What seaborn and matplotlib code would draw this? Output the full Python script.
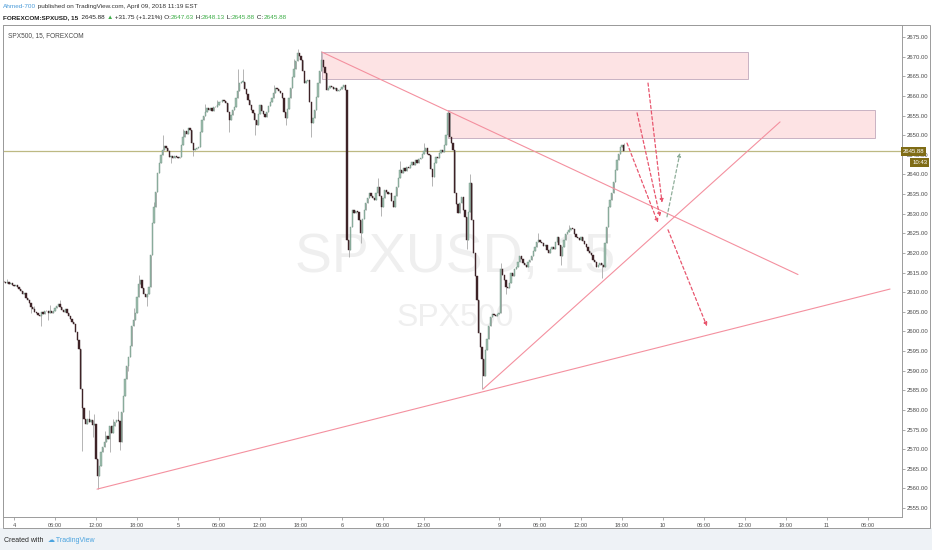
import numpy as np
import pandas as pd
import matplotlib
matplotlib.use("Agg")
import matplotlib.pyplot as plt
import matplotlib.transforms as mtransforms
from matplotlib.patches import Rectangle
import seaborn as sns

# 15 minute closes, bar index -6 .. 357 (index 0 = Apr 4 00:00, weekend skipped)
first_bar = -6
closes = [
    2612.6, 2612.4, 2612.5, 2612.2, 2612.3, 2611.9, 2611.5, 2611.8, 2611.2, 2610.7,
    2610.2, 2609.6, 2609.9, 2608.6, 2608.0, 2607.2, 2606.1, 2605.6, 2605.0, 2604.6,
    2604.3, 2604.0, 2605.0, 2604.4, 2605.3, 2605.1, 2604.6, 2605.2, 2604.8, 2605.3,
    2606.0, 2606.4, 2606.9, 2606.2, 2605.4, 2604.9, 2605.6, 2604.8, 2603.9, 2603.2,
    2602.5, 2601.8, 2599.9, 2597.8, 2595.4, 2585.2, 2580.4, 2577.6, 2576.4, 2577.8,
    2576.9, 2577.5, 2576.2, 2576.3, 2567.4, 2563.1, 2565.8, 2569.2, 2570.5, 2571.8,
    2573.4, 2572.6, 2575.8, 2574.2, 2576.0, 2576.9, 2577.5, 2577.1, 2571.8, 2579.4,
    2583.6, 2587.8, 2591.1, 2593.5, 2596.2, 2601.3, 2603.0, 2604.8, 2608.7, 2612.0,
    2613.2, 2611.0, 2609.5, 2608.9, 2609.6, 2611.4, 2619.5, 2627.7, 2631.8, 2635.6,
    2640.4, 2642.8, 2645.0, 2646.3, 2647.2, 2646.8, 2646.0, 2644.5, 2644.8, 2644.3,
    2644.6, 2644.5, 2644.2, 2644.5, 2647.5, 2649.6, 2651.0, 2650.2, 2651.8, 2651.4,
    2648.0, 2646.3, 2646.6, 2646.8, 2647.0, 2650.8, 2653.9, 2655.0, 2656.0, 2656.9,
    2656.5, 2657.0, 2656.2, 2657.3, 2657.1, 2657.7, 2658.4, 2658.6, 2659.0, 2658.8,
    2658.2, 2656.0, 2653.9, 2655.2, 2656.4, 2657.2, 2659.4, 2661.2, 2663.3, 2663.6,
    2663.6, 2661.8, 2660.4, 2659.0, 2657.8, 2656.5, 2655.7, 2654.0, 2652.6, 2655.4,
    2657.7, 2656.2, 2655.5, 2654.7, 2656.0, 2657.4, 2658.5, 2659.6, 2660.8, 2662.0,
    2661.8, 2661.2, 2660.8, 2659.5, 2656.0, 2654.4, 2656.8, 2659.5, 2662.0, 2664.8,
    2666.9, 2669.0, 2670.9, 2670.2, 2669.2, 2666.5, 2663.3, 2663.8, 2664.1, 2658.6,
    2653.1, 2654.5, 2656.4, 2659.8, 2663.3, 2666.4, 2669.2, 2667.5, 2665.8, 2661.5,
    2662.0, 2662.6, 2662.3, 2661.8, 2662.0, 2661.4, 2661.5, 2661.8, 2662.4, 2662.8,
    2661.5, 2623.4, 2620.8, 2626.5, 2631.0, 2630.2, 2630.8, 2630.5, 2628.4, 2625.2,
    2628.6, 2631.0, 2632.8, 2634.1, 2635.3, 2634.6, 2634.0, 2633.6, 2635.2, 2636.9,
    2634.5, 2631.8, 2634.0, 2636.1, 2635.5, 2635.0, 2635.3, 2633.2, 2631.8, 2634.5,
    2636.9, 2639.0, 2641.2, 2640.4, 2641.6, 2640.8, 2642.0, 2641.7, 2642.5, 2643.1,
    2642.4, 2643.6, 2643.0, 2644.0, 2644.2, 2645.2, 2646.0, 2646.8, 2645.3, 2645.0,
    2641.5, 2639.4, 2643.0, 2644.5, 2644.1, 2645.5, 2646.2, 2645.8, 2647.5, 2650.0,
    2655.7, 2649.6, 2648.0, 2646.3, 2635.3, 2632.5, 2630.2, 2632.8, 2634.3, 2631.0,
    2629.2, 2623.4, 2630.5, 2637.9, 2628.5, 2620.0, 2614.2, 2608.1, 2599.7, 2596.0,
    2592.9, 2588.6, 2595.2, 2598.0, 2601.5, 2603.8, 2604.5, 2604.3, 2604.0, 2604.5,
    2604.8, 2615.8, 2614.5, 2613.2, 2611.4, 2611.0, 2612.3, 2615.0, 2614.2, 2616.0,
    2616.5, 2617.8, 2619.1, 2618.4, 2617.5, 2617.0, 2616.5, 2617.6, 2618.3, 2619.1,
    2620.5, 2621.6, 2622.8, 2623.4, 2622.9, 2622.6, 2621.8, 2622.0, 2620.8, 2620.1,
    2621.0, 2621.6, 2620.9, 2622.8, 2624.1, 2622.0, 2619.1, 2621.5, 2623.4, 2624.8,
    2625.4, 2625.9, 2626.4, 2626.2, 2624.8, 2624.1, 2623.8, 2623.4, 2624.1, 2623.0,
    2622.4, 2621.6, 2620.6, 2620.1, 2619.4, 2618.3, 2617.8, 2616.5, 2617.0, 2617.5,
    2617.0, 2616.5, 2622.6, 2626.7, 2631.8, 2633.5, 2635.3, 2638.0, 2641.2, 2643.8,
    2645.2, 2647.0, 2647.63, 2645.88,
]
first_open = 2612.8

# visible wicks (bar index -> price)
high_wicks = {-4: 2613.4, 12: 2606.5, 21: 2606.8, 27: 2608.0, 44: 2580.0, 47: 2579.0,
              53: 2574.6, 58: 2577.8, 61: 2579.6, 70: 2606.0, 73: 2614.4, 82: 2633.0,
              87: 2650.0, 99: 2651.6, 112: 2658.0, 119: 2659.0, 131: 2666.8, 134: 2667.0,
              152: 2662.8, 164: 2669.5, 166: 2672.0, 180: 2671.6, 213: 2639.0, 226: 2643.5,
              240: 2648.0, 254: 2656.5, 267: 2640.0, 285: 2617.5, 307: 2625.0, 325: 2627.2,
              357: 2648.13}
low_wicks = {10: 2604.8, 16: 2601.5, 20: 2603.0, 40: 2569.5, 46: 2573.0, 49: 2559.8,
             56: 2569.2, 62: 2569.9, 67: 2590.0, 78: 2606.5, 92: 2642.8, 105: 2644.6,
             126: 2650.8, 141: 2650.0, 159: 2652.5, 174: 2649.6, 196: 2619.0, 203: 2622.5,
             215: 2629.5, 245: 2637.0, 265: 2621.0, 274: 2585.2, 288: 2609.5, 320: 2617.0,
             344: 2613.5}

last_price = 2645.88

# drawings: (bar index, price)
zone_upper = [(180.3, 2664.4), (429.7, 2671.2)]
zone_lower = [(254.1, 2649.3), (504.1, 2656.5)]
line_down = [(180.3, 2671.2), (459.0, 2614.5)]
line_up = [(274.6, 2585.3), (448.5, 2653.4)]
line_base = [(48.6, 2559.8), (512.9, 2610.8)]
red_arrows = [[(358.9, 2648.0), (377.0, 2627.7)],
              [(364.8, 2655.7), (378.2, 2629.2)],
              [(371.2, 2663.3), (379.4, 2632.8)],
              [(382.9, 2625.9), (405.7, 2601.3)]]
green_arrow = [(382.3, 2629.2), (389.9, 2645.5)]

tick_idx = [0, 24, 48, 72, 96, 120, 144, 168, 192, 216, 240, 284, 308, 332, 356,
            380, 404, 428, 452, 476, 500]
tick_lab = ['4', '06:00', '12:00', '18:00', '5', '06:00', '12:00', '18:00', '6', '06:00',
            '12:00', '9', '06:00', '12:00', '18:00', '10', '06:00', '12:00', '18:00',
            '11', '06:00']
price_ticks = np.arange(2555, 2680, 5)

sns.set_style("white")
plt.rcParams['font.family'] = ['Liberation Sans', 'DejaVu Sans']

W, H = 932, 550
fig = plt.figure(figsize=(W / 100, H / 100), dpi=100)
fig.patch.set_facecolor('white')


def fx(px):
    return px / W


def fy(py):
    return 1 - py / H


# bottom band
fig.patches.append(Rectangle((0, 0), 1, fy(528), transform=fig.transFigure,
                             facecolor='#eef2f6', edgecolor='none', zorder=0))

ax = fig.add_axes([fx(3), fy(517), fx(902) - fx(3), fy(25) - fy(517)])

idx = np.arange(first_bar, first_bar + len(closes))
opens = [first_open] + closes[:-1]
df = pd.DataFrame({'i': idx, 'open': opens, 'close': closes})
df['top'] = df[['open', 'close']].max(axis=1)
df['bot'] = df[['open', 'close']].min(axis=1)
df['high'] = [max(high_wicks.get(i, t), t) for i, t in zip(df['i'], df['top'])]
df['low'] = [min(low_wicks.get(i, b), b) for i, b in zip(df['i'], df['bot'])]
df['up'] = df['close'] >= df['open']

up_col, dn_col, wick_col = '#9dbdad', '#3e2327', '#a8a8a8'

# watermark
ax.text(0.503, 0.527, 'SPXUSD, 15', transform=ax.transAxes, ha='center', va='center',
        fontsize=40, color='#efefef', zorder=0)
ax.text(0.503, 0.405, 'SPX500', transform=ax.transAxes, ha='center', va='center',
        fontsize=23, color='#efefef', zorder=0)

ax.vlines(df['i'], df['low'], df['high'], color=wick_col, lw=0.6, zorder=2)
for up, col, ec in [(True, up_col, '#6f9383'), (False, dn_col, dn_col)]:
    d = df[df['up'] == up]
    ax.bar(d['i'], np.maximum(d['top'] - d['bot'], 0.2), bottom=d['bot'], width=0.75,
           color=col, edgecolor=ec, linewidth=0.3, zorder=3)

# zones
for (x0, y0), (x1, y1) in [zone_upper, zone_lower]:
    ax.add_patch(Rectangle((x0, y0), x1 - x0, y1 - y0, facecolor='#fde3e4',
                           edgecolor='#c9b3c3', lw=0.7, zorder=1))

# trend lines
lines = pd.DataFrame(
    [(name, x, y) for name, pts in [('down', line_down), ('up', line_up), ('base', line_base)]
     for x, y in pts], columns=['name', 'x', 'y'])
sns.lineplot(data=lines, x='x', y='y', units='name', estimator=None, sort=False,
             color='#f4909f', lw=0.8, ax=ax, zorder=4)

# price line
ax.axhline(last_price, color='#bdb983', lw=0.9, zorder=1.5)

for (x0, y0), (x1, y1) in red_arrows:
    ax.annotate('', xy=(x1, y1), xytext=(x0, y0),
                arrowprops=dict(arrowstyle='-|>', color='#e8566e', lw=0.9,
                                linestyle=(0, (2.5, 2)), mutation_scale=5,
                                shrinkA=0, shrinkB=0), zorder=5)
(gx0, gy0), (gx1, gy1) = green_arrow
ax.annotate('', xy=(gx1, gy1), xytext=(gx0, gy0),
            arrowprops=dict(arrowstyle='-|>', color='#8fae9a', lw=0.9,
                            linestyle=(0, (2.5, 2)), mutation_scale=5,
                            shrinkA=0, shrinkB=0), zorder=5)

ax.set_xlim(-6.44, 519.9)
ax.set_ylim(2552.7, 2678.1)
ax.set_xlabel('')
ax.set_ylabel('')
ax.set_xticks(tick_idx)
ax.set_xticklabels(tick_lab)
ax.set_yticks(price_ticks)
ax.set_yticklabels([f'{p:.2f}' for p in price_ticks])
ax.yaxis.tick_right()
ax.tick_params(axis='y', right=True, left=False, length=2, width=0.5, color='#8a8a8a',
               pad=1.5, labelsize=4.3, labelcolor='#4d4d4d')
ax.tick_params(axis='x', bottom=True, length=2, width=0.5, color='#8a8a8a',
               pad=2.2, labelsize=4.1, labelcolor='#4d4d4d')
for s in ax.spines.values():
    s.set_color('#9b9b9b')
    s.set_linewidth(0.7)

# outer frame
fig.patches.append(Rectangle((fx(3), fy(528)), fx(930) - fx(3), fy(25) - fy(528),
                             transform=fig.transFigure, facecolor='none',
                             edgecolor='#9b9b9b', lw=0.7, zorder=10))

# last price labels on axis
blend = mtransforms.blended_transform_factory(ax.transAxes, ax.transData)
ax.text(1.0012, last_price, '2645.88', transform=blend, ha='left', va='center',
        fontsize=4.3, color='white', clip_on=False, zorder=11,
        bbox=dict(boxstyle='square,pad=0.3', fc='#7f6c16', ec='none'))
ax.text(1.0112, last_price - 2.9, '10:43', transform=blend, ha='left', va='center',
        fontsize=4.3, color='white', clip_on=False, zorder=11,
        bbox=dict(boxstyle='square,pad=0.3', fc='#7f6c16', ec='none'))

ax.text((fx(8) - fx(3)) / (fx(902) - fx(3)), 0.978,
        'SPX500, 15, FOREXCOM', transform=ax.transAxes, ha='left', va='center',
        fontsize=4.7, color='#4a4a4a')

renderer = fig.canvas.get_renderer()


def put_pieces(x_px, y_px, pieces, size):
    # y_px is the baseline
    x = fx(x_px)
    for s, col, weight in pieces:
        t = fig.text(x, fy(y_px), s, color=col, fontsize=size, fontweight=weight,
                     ha='left', va='baseline')
        x += t.get_window_extent(renderer=renderer).width / fig.bbox.width


green = '#3fae49'
dark = '#222222'
put_pieces(3, 8, [('Ahmed-700', '#4a9bd9', 'normal'),
                  (' published on TradingView.com, April 09, 2018 11:19 EST', '#333333', 'normal')],
           4.6)
put_pieces(3, 19, [('FOREXCOM:SPXUSD, 15', dark, 'bold'), ('  2645.88 ', dark, 'normal'),
                   ('▲', green, 'normal'), (' +31.75 (+1.21%) O:', dark, 'normal'),
                   ('2647.63', green, 'normal'), (' H:', dark, 'normal'),
                   ('2648.13', green, 'normal'), (' L:', dark, 'normal'),
                   ('2645.88', green, 'normal'), (' C:', dark, 'normal'),
                   ('2645.88', green, 'normal')], 4.6)

put_pieces(4, 542, [('Created with  ', '#2b2b2b', 'normal'), ('☁', '#4aa3df', 'bold'),
                    (' TradingView', '#4aa3df', 'normal')], 5.0)

fig.savefig('out.png', dpi=100)
